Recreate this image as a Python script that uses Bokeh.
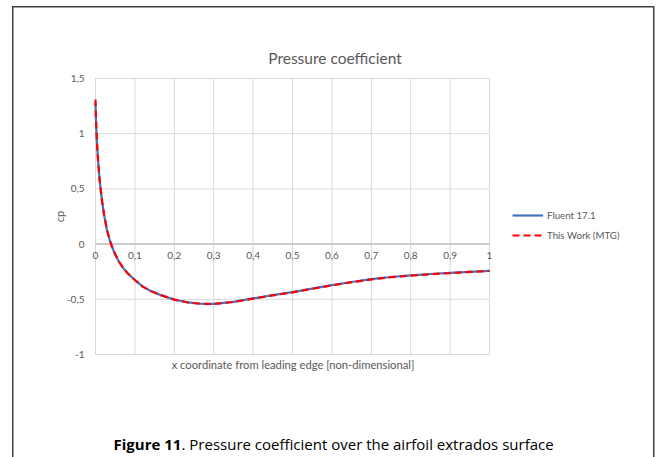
import math
from bokeh.plotting import figure
from bokeh.models import (Range1d, FixedTicker, CustomJSTickFormatter, Legend,
                          LegendItem, Label)
from bokeh.core.properties import value
from bokeh.embed import file_html
from bokeh.resources import INLINE

# ---- data ----
x_fluent = [0.0, 0.0005, 0.0015, 0.003, 0.005, 0.0075, 0.010, 0.013, 0.017, 0.022,
            0.029, 0.035, 0.041, 0.047, 0.058, 0.070, 0.083, 0.100, 0.120, 0.140,
            0.164, 0.200, 0.235, 0.266, 0.300, 0.350, 0.400, 0.450, 0.500, 0.550,
            0.600, 0.650, 0.700, 0.750, 0.800, 0.850, 0.900, 0.950, 1.000]
cp_fluent = [1.28, 1.21, 1.10, 0.97, 0.84, 0.71, 0.60, 0.50, 0.38, 0.26,
             0.13, 0.05, -0.015, -0.07, -0.15, -0.215, -0.27, -0.325, -0.385, -0.425,
             -0.46, -0.503, -0.528, -0.540, -0.542, -0.523, -0.492, -0.462, -0.435, -0.403,
             -0.372, -0.343, -0.318, -0.298, -0.283, -0.271, -0.261, -0.251, -0.242]

x_mtg = [0.0, 0.0005, 0.0015, 0.003, 0.005, 0.0075, 0.010, 0.013, 0.017, 0.022,
         0.029, 0.035, 0.041, 0.047, 0.058, 0.070, 0.083, 0.100, 0.120, 0.140,
         0.164, 0.200, 0.235, 0.266, 0.300, 0.350, 0.400, 0.450, 0.500, 0.550,
         0.600, 0.650, 0.700, 0.750, 0.800, 0.850, 0.900, 0.950, 1.000]
cp_mtg = [1.31, 1.22, 1.10, 0.97, 0.84, 0.71, 0.60, 0.50, 0.38, 0.26,
          0.13, 0.05, -0.015, -0.07, -0.15, -0.215, -0.27, -0.325, -0.385, -0.425,
          -0.46, -0.503, -0.529, -0.541, -0.543, -0.524, -0.494, -0.464, -0.437, -0.405,
          -0.374, -0.345, -0.320, -0.300, -0.285, -0.273, -0.263, -0.252, -0.243]

x_ticks = [0.0, 0.1, 0.2, 0.3, 0.4, 0.5, 0.6, 0.7, 0.8, 0.9, 1.0]
x_tick_labels = ["0", "0,1", "0,2", "0,3", "0,4", "0,5", "0,6", "0,7", "0,8", "0,9", "1"]
y_ticks = [-1.0, -0.5, 0.0, 0.5, 1.0, 1.5]

series_names = ["Fluent 17.1", "This Work (MTG)"]
title_text = "Pressure coefficient"
x_label = "x coordinate from leading edge [non-dimensional]"
y_label = "cp"
caption_bold = "Figure 11"
caption_rest = ". Pressure coefficient over the airfoil extrados surface"

# ---- styling / layout ----
GREY = "#595959"
GRID = "#d9d9d9"
FONT = "Lato"
W, H = 656, 457
FRAME_LEFT = 50                # left edge of the drawing frame (px)
X0_PX = 95                     # px position of x = 0
PX_PER_X = 394.0               # px per unit of x
PX_PER_Y = 110.4               # px per unit of cp
TOP_PAD, BOTTOM_PAD = 78, 103  # px above cp=1.5 / below cp=-1

x_start = -(X0_PX - FRAME_LEFT) / PX_PER_X
x_end = (W - X0_PX) / PX_PER_X
y_start = -1 - BOTTOM_PAD / PX_PER_Y
y_end = 1.5 + TOP_PAD / PX_PER_Y

p = figure(width=W, height=H, title=None,
           x_range=Range1d(x_start, x_end), y_range=Range1d(y_start, y_end),
           x_axis_location=None,
           output_backend="svg", toolbar_location=None,
           min_border_left=FRAME_LEFT, min_border_right=0,
           min_border_top=0, min_border_bottom=0)
p.border_fill_color = None
p.background_fill_color = None
p.outline_line_color = None
p.xgrid.visible = False
p.ygrid.visible = False
p.styles = {
    "background-image": ("linear-gradient(#404040, #404040), "
                         "linear-gradient(#404040, #404040), "
                         "linear-gradient(#404040, #404040)"),
    "background-size": "1.5px 100%, 642px 1.5px, 1.5px 100%",
    "background-position": "12px 6px, 12px 6px, 653px 6px",
    "background-repeat": "no-repeat",
}

fmt = CustomJSTickFormatter(code="""
    var v = Math.round(tick * 10) / 10;
    return v.toString().replace('.', ',');
""")

# vertical axis, drawn at x = 0
ya = p.yaxis[0]
ya.ticker = FixedTicker(ticks=y_ticks)
ya.formatter = fmt
ya.fixed_location = 0
ya.bounds = (y_ticks[0], y_ticks[-1])
ya.axis_line_color = None
ya.major_tick_line_color = None
ya.minor_tick_line_color = None
ya.major_tick_in = 0
ya.major_tick_out = 0
ya.major_label_standoff = 11
ya.major_label_text_font = FONT
ya.major_label_text_font_size = "10px"
ya.major_label_text_color = GREY

# gridlines of the plot area (drawn from the tick arrays)
n_x = len(x_ticks)
n_y = len(y_ticks)
p.segment(x0=x_ticks, y0=[y_ticks[0]] * n_x, x1=x_ticks, y1=[y_ticks[-1]] * n_x,
          line_color=GRID, line_width=1)
p.segment(x0=[x_ticks[0]] * n_y, y0=y_ticks, x1=[x_ticks[-1]] * n_y, y1=y_ticks,
          line_color=GRID, line_width=1)
# horizontal axis crossing at cp = 0, with its tick labels
p.segment(x0=[x_ticks[0]], y0=[0], x1=[x_ticks[-1]], y1=[0],
          line_color="#bfbfbf", line_width=1.5)
p.text(x=x_ticks, y=[0] * n_x, text=x_tick_labels, y_offset=8,
       text_align="center", text_baseline="top",
       text_font=value(FONT), text_font_size="10px", text_color=GREY)

r1 = p.line(x_fluent, cp_fluent, line_color="#4472c4", line_width=2.2)
r2 = p.line(x_mtg, cp_mtg, line_color="#ff0000", line_width=2.2, line_dash="7 4")

legend = Legend(items=[LegendItem(label=series_names[0], renderers=[r1]),
                       LegendItem(label=series_names[1], renderers=[r2])],
                location=(462, 212), orientation="vertical",
                background_fill_alpha=0, border_line_color=None,
                padding=0, margin=0, spacing=0,
                glyph_width=31, glyph_height=20, label_height=20,
                label_standoff=4,
                label_text_font=FONT, label_text_font_size="9.7px",
                label_text_color=GREY)
p.add_layout(legend, "center")

p.add_layout(Label(x=284.5, y=400, x_units="screen", y_units="screen",
                   text=title_text, text_align="center", text_baseline="middle",
                   text_font=FONT, text_font_size="15.5px", text_color=GREY))
p.add_layout(Label(x=9, y=241, x_units="screen", y_units="screen",
                   text=y_label, angle=math.pi / 2, text_align="center",
                   text_baseline="middle", text_font=FONT,
                   text_font_size="11px", text_color=GREY))
p.add_layout(Label(x=242.5, y=93, x_units="screen", y_units="screen",
                   text=x_label, text_align="center", text_baseline="middle",
                   text_font=FONT, text_font_size="11.2px", text_color=GREY))
p.add_layout(Label(x=63, y=14, x_units="screen", y_units="screen",
                   text=caption_bold, text_align="left", text_baseline="middle",
                   text_font="Open Sans", text_font_style="bold",
                   text_font_size="15px", text_color="#000000"))
p.add_layout(Label(x=131, y=14, x_units="screen", y_units="screen",
                   text=caption_rest, text_align="left", text_baseline="middle",
                   text_font="Open Sans", text_font_size="15px",
                   text_color="#000000"))

open("out.html", "w").write(file_html(p, INLINE))
